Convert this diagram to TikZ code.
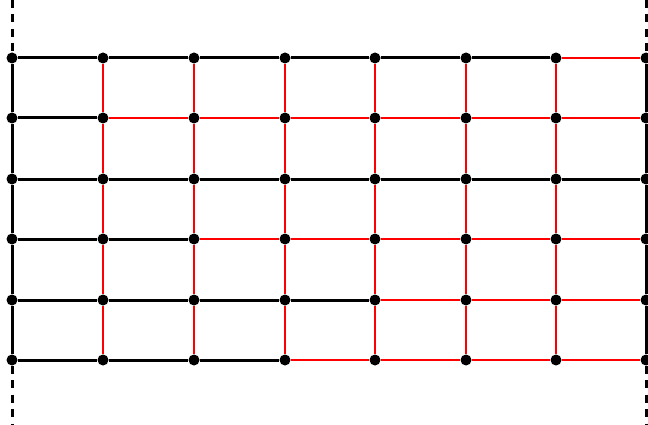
\documentclass[tikz,border=0pt]{standalone}
\tikzset{
  dot/.style={circle,fill=black,inner sep=0pt,minimum size=11pt},
  redline/.style={red,line width=1.2pt},
  blackline/.style={black,line width=3pt},
  dashline/.style={black,line width=3pt,dash pattern=on 8pt off 6.5pt}}
\begin{document}
\begin{tikzpicture}[x=1pt,y=-1pt]
\useasboundingbox (0,0) rectangle (648,425);
\def\xs{{12,103,194,285,375,466,556,646}}
\def\ys{{58,118,179,239,300,360}}
\foreach \c in {0,...,7}{
  \foreach \r in {0,...,5}{
    \pgfmathsetmacro\xx{\xs[\c]}
    \pgfmathsetmacro\yy{\ys[\r]}
    \node[dot] (n-\c-\r) at (\xx,\yy) {};
  }
}
% red verticals
\foreach \c in {1,...,6}{
  \foreach \r [evaluate=\r as \rn using int(\r+1)] in {0,...,4}{
    \draw[redline] (n-\c-\r) -- (n-\c-\rn);
  }
}
% red horizontals
\foreach \r in {0,...,5}{
  \foreach \c [evaluate=\c as \cn using int(\c+1)] in {0,...,6}{
    \draw[redline] (n-\c-\r) -- (n-\cn-\r);
  }
}
% black borders
\foreach \c in {0,7}{
  \foreach \r [evaluate=\r as \rn using int(\r+1)] in {0,...,4}{
    \draw[blackline] (n-\c-\r) -- (n-\c-\rn);
  }
}
% black horizontals: row / last column
\foreach \r/\m in {0/6,1/1,2/7,3/2,4/4,5/3}{
  \foreach \c [evaluate=\c as \cp using int(\c-1)] in {1,...,\m}{
    \draw[blackline] (n-\cp-\r) -- (n-\c-\r);
  }
}
% dashed
\coordinate (tl) at (12,0);
\coordinate (bl) at (12,425);
\coordinate (tr) at (646,0);
\coordinate (br) at (646,425);
\draw[dashline] (tl) -- (n-0-0);
\draw[dashline] (n-0-5) -- (bl);
\draw[dashline] (tr) -- (n-7-0);
\draw[dashline] (n-7-5) -- (br);
\end{tikzpicture}
\end{document}
